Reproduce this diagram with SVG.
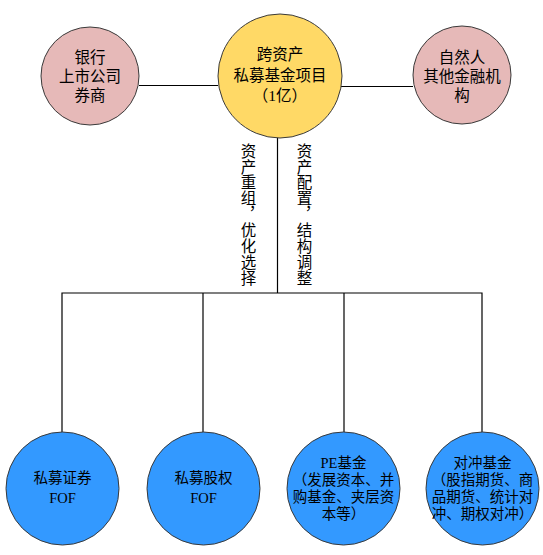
<svg xmlns="http://www.w3.org/2000/svg" width="543" height="555" viewBox="0 0 543 555">
<style>
.n{stroke:#3a3a3a;stroke-width:1}
.pink{fill:#E6B9B8}
.gold{fill:#FFD966}
.blue{fill:#3399FF}
text{font-family:"Liberation Serif","Noto Sans CJK SC",serif;fill:#000;text-anchor:middle;dominant-baseline:central}
.t{font-size:15.5px}
.b{font-size:14.5px}
.v{font-size:15.5px;writing-mode:vertical-rl;text-anchor:start;letter-spacing:0.4px}
.c{stroke:#000;stroke-width:1.2;fill:none}
</style>
<rect width="543" height="555" fill="#fff"/>
<g id="connectors">
<line class="c" x1="139" y1="85.5" x2="218" y2="85.5"/>
<line class="c" x1="341" y1="86.5" x2="413" y2="86.5"/>
<line class="c" x1="277.5" y1="137" x2="277.5" y2="293"/>
<polyline class="c" points="62,432 62,293 482,293 482,432"/>
<line class="c" x1="203" y1="293" x2="203" y2="432"/>
<line class="c" x1="344" y1="293" x2="344" y2="432"/>
<text class="v" x="247" y="143">资产重组，优化选择</text>
<text class="v" x="303" y="143">资产配置，结构调整</text>
</g>
<g id="node-bank">
<circle class="n pink" cx="90" cy="76" r="49"/>
<text class="t" x="90" y="57">银行</text>
<text class="t" x="90" y="76">上市公司</text>
<text class="t" x="90" y="95">券商</text>
</g>
<g id="node-center">
<circle class="n gold" cx="280" cy="76" r="62"/>
<text class="t" x="280" y="54">跨资产</text>
<text class="t" x="280" y="75">私募基金项目</text>
<text class="t" x="280" y="95">（1亿）</text>
</g>
<g id="node-person">
<circle class="n pink" cx="462" cy="75" r="49"/>
<text class="t" x="462" y="57">自然人</text>
<text class="t" x="462" y="76">其他金融机</text>
<text class="t" x="462" y="95">构</text>
</g>
<g id="node-fof1">
<circle class="n blue" cx="62.5" cy="488.5" r="56.5"/>
<text class="b" x="62.5" y="478">私募证券</text>
<text class="b" x="62.5" y="498">FOF</text>
</g>
<g id="node-fof2">
<circle class="n blue" cx="203.5" cy="488.5" r="56.5"/>
<text class="b" x="203.5" y="478">私募股权</text>
<text class="b" x="203.5" y="498">FOF</text>
</g>
<g id="node-pe">
<circle class="n blue" cx="343.5" cy="488.5" r="56.5"/>
<text class="b" x="343.5" y="463">PE基金</text>
<text class="b" x="343.5" y="480">（发展资本、并</text>
<text class="b" x="343.5" y="497">购基金、夹层资</text>
<text class="b" x="343.5" y="513.5">本等）</text>
</g>
<g id="node-hedge">
<circle class="n blue" cx="482.5" cy="488.5" r="56.5"/>
<text class="b" x="482.5" y="463">对冲基金</text>
<text class="b" x="482.5" y="480">（股指期货、商</text>
<text class="b" x="482.5" y="497">品期货、统计对</text>
<text class="b" x="482.5" y="513.5">冲、期权对冲）</text>
</g>
</svg>
